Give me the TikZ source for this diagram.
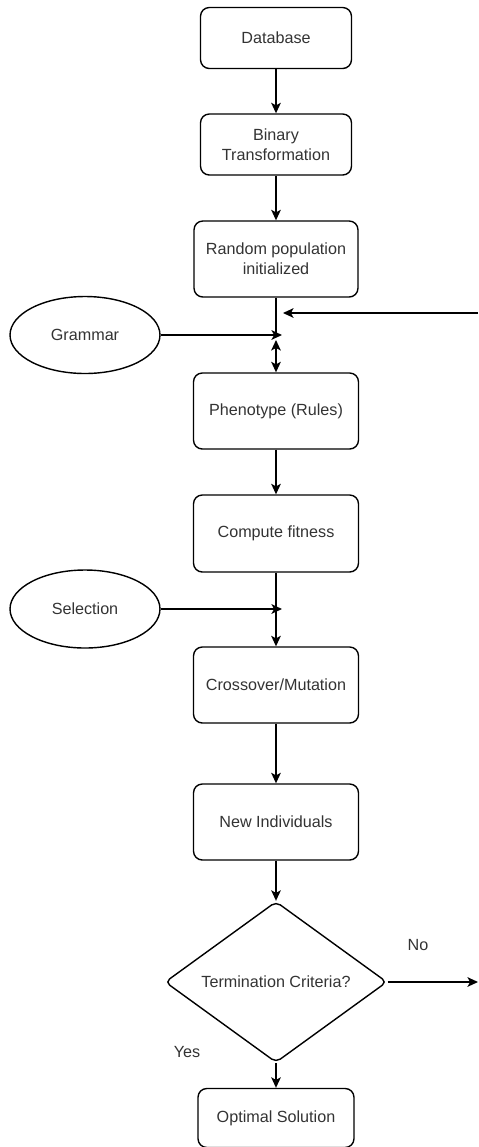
\documentclass[tikz,border=0pt]{standalone}
\usepackage{fontspec}
\setmainfont{Liberation Sans}
\usetikzlibrary{shapes.geometric,arrows.meta}

\definecolor{textgray}{RGB}{51,51,51}

\tikzset{
  proc/.style={draw,rounded corners=5pt,line width=0.8pt,align=center,inner sep=0pt,
    text=textgray,font=\fontsize{9.2}{11.5}\selectfont},
  oval/.style={draw,ellipse,line width=0.8pt,inner sep=0pt,
    text=textgray,font=\fontsize{9.2}{11.5}\selectfont},
  decide/.style={draw,diamond,rounded corners=3pt,line width=0.8pt,inner sep=0pt,
    text=textgray,font=\fontsize{9.2}{11.5}\selectfont},
  lbl/.style={text=textgray,font=\fontsize{9.2}{11.5}\selectfont},
  flow/.style={line width=0.8pt,-{Stealth[length=6pt,width=5.5pt,inset=1.5pt]}},
  both/.style={line width=0.8pt,
    {Stealth[length=6pt,width=5.5pt,inset=1.5pt]}-{Stealth[length=6pt,width=5.5pt,inset=1.5pt]}},
  plain/.style={line width=0.8pt}
}

\begin{document}
\begin{tikzpicture}[x=0.02cm,y=-0.02cm,line join=round]
    \useasboundingbox (0,0) rectangle (478,1147);

    % Cadena principal
    \node[proc,minimum width=3.02cm,minimum height=1.22cm] (db) at (276,38) {Database};
    \node[proc,minimum width=3.02cm,minimum height=1.22cm] (bin) at (276,144.5)
        {Binary\\Transformation};
    \node[proc,minimum width=3.28cm,minimum height=1.52cm] (rand) at (276,259)
        {Random population\\initialized};
    \node[proc,minimum width=3.30cm,minimum height=1.52cm] (phen) at (276,411)
        {Phenotype (Rules)};
    \node[proc,minimum width=3.30cm,minimum height=1.54cm] (fit) at (276,533.5)
        {Compute fitness};
    \node[proc,minimum width=3.30cm,minimum height=1.52cm] (cross) at (276,685)
        {Crossover/Mutation};
    \node[proc,minimum width=3.30cm,minimum height=1.52cm] (newi) at (276,822)
        {New Individuals};
    \node[decide,minimum width=4.44cm,minimum height=2.34cm] (term) at (276,982)
        {Termination Criteria?};
    \node[proc,minimum width=3.12cm,minimum height=1.18cm] (opt) at (276,1118)
        {Optimal Solution};

    % Entradas laterales
    \node[oval,minimum width=3.0cm,minimum height=1.54cm] (gram) at (85,335) {Grammar};
    \node[oval,minimum width=3.0cm,minimum height=1.56cm] (sel) at (85,609) {Selection};

    \coordinate (j1) at (276,335);
    \coordinate (j2) at (276,340);
    \coordinate (g1) at (282,335);
    \coordinate (r1) at (478,313);
    \coordinate (r2) at (283,313);
    \coordinate (s1) at (282,609);
    \coordinate (nx) at (478,982);

    % Flechas
    \draw[flow] (db) -- (bin);
    \draw[flow] (bin) -- (rand);
    \draw[plain] (rand.south) -- (j1);
    \draw[both] (j2) -- (phen.north);
    \draw[flow] (gram.east) -- (g1);
    \draw[flow] (r1) -- (r2);
    \draw[flow] (phen) -- (fit);
    \draw[flow] (fit) -- (cross);
    \draw[flow] (sel.east) -- (s1);
    \draw[flow] (cross) -- (newi);
    \draw[flow] (newi) -- (term.north);
    \draw[flow] (term.east) -- (nx);
    \draw[flow] (term.south) -- (opt.north);

    \node[lbl] (no) at (418,945) {No};
    \node[lbl] (yes) at (187,1052) {Yes};
\end{tikzpicture}
\end{document}
